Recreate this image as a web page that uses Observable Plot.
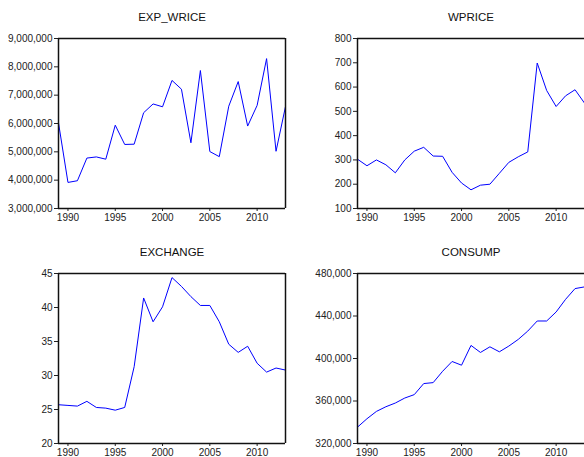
<!DOCTYPE html>
<html>
<head>
<meta charset="utf-8">
<script src="https://cdn.jsdelivr.net/npm/d3@7"></script>
<script src="https://cdn.jsdelivr.net/npm/@observablehq/plot@0.6"></script>
<style>
  html, body { margin: 0; padding: 0; background: #fff; overflow: hidden; }
  #wrap { position: relative; width: 584px; height: 457px; overflow: hidden; background: #fff; }
  .panel { position: absolute; width: 292px; height: 230px; }
  .panel svg { max-width: none !important; }
</style>
</head>
<body>
<div id="wrap"></div>
<script>
const years = [1989,1990,1991,1992,1993,1994,1995,1996,1997,1998,1999,2000,2001,2002,2003,2004,2005,2006,2007,2008,2009,2010,2011,2012,2013];

const expWrice = [6020000,3920000,3980000,4780000,4820000,4740000,5940000,5260000,5270000,6380000,6690000,6590000,7520000,7210000,5320000,7870000,5010000,4830000,6610000,7480000,5910000,6640000,8290000,5020000,6600000];
const wprice = [303,276,300,280,247,300,336,352,316,315,249,205,177,196,200,245,290,313,333,699,586,520,564,589,534];
const exchange = [25.7,25.6,25.5,26.2,25.3,25.2,24.9,25.3,31.3,41.4,37.9,40.1,44.4,43.1,41.6,40.3,40.3,37.9,34.6,33.4,34.3,31.8,30.5,31.1,30.8];
const consump = [335400,343300,350200,354600,358100,362800,366000,376400,377300,388000,397200,393700,412300,405700,411000,406300,411700,418000,425800,435300,435300,443800,455700,465800,467400];

const titles = ["EXP_WRICE", "WPRICE", "EXCHANGE", "CONSUMP"];
const yDomains = [[3000000, 9000000], [100, 800], [20, 45], [320000, 480000]];
const yTicks = [
  [3000000,4000000,5000000,6000000,7000000,8000000,9000000],
  [100,200,300,400,500,600,700,800],
  [20,25,30,35,40,45],
  [320000,360000,400000,440000,480000]
];
const xTicks = [1990, 1995, 2000, 2005, 2010];
const xDomain = [1989, 2013];
const series = [expWrice, wprice, exchange, consump];

const positions = [[0, 0], [299, 0], [0, 234.5], [299, 234.5]];
const hasRightEdge = [true, false, true, false];

const wrap = document.getElementById("wrap");
const fmt = d3.format(",");

series.forEach((vals, i) => {
  const data = years.map((yr, j) => ({year: yr, value: vals[j]}));
  const marks = [
    Plot.axisY({ticks: yTicks[i], tickFormat: fmt, tickSize: 4, tickPadding: 2, fontSize: 10, fill: "#222", stroke: "#222", label: null}),
    Plot.axisX({ticks: xTicks, tickFormat: d => String(d), tickSize: 3, tickPadding: 2, fontSize: 10, fill: "#222", stroke: "#222", label: null}),
    Plot.lineY(data, {x: "year", y: "value", stroke: "#0000ff", strokeWidth: 1}),
    Plot.ruleY([yDomains[i][0], yDomains[i][1]], {stroke: "#111", strokeWidth: 1.5}),
    Plot.ruleX([xDomain[0]], {stroke: "#111", strokeWidth: 1.5}),
    Plot.text([titles[i]], {frameAnchor: "top", dy: -20.7, fontSize: 11.5, fill: "#111", lineAnchor: "middle"})
  ];
  if (hasRightEdge[i]) marks.push(Plot.ruleX([xDomain[1]], {stroke: "#111", strokeWidth: 1.5}));
  const chart = Plot.plot({
    width: 292,
    height: 230,
    marginLeft: 58,
    marginRight: 7,
    marginTop: 38,
    marginBottom: 22,
    style: {fontFamily: "'Liberation Sans', Arial, sans-serif", background: "transparent", overflow: "visible", maxWidth: "none"},
    x: {domain: xDomain, axis: null, label: null},
    y: {domain: yDomains[i], axis: null, label: null},
    marks
  });
  const div = document.createElement("div");
  div.className = "panel";
  div.style.left = positions[i][0] + "px";
  div.style.top = positions[i][1] + "px";
  div.appendChild(chart);
  wrap.appendChild(div);
});
</script>
</body>
</html>
